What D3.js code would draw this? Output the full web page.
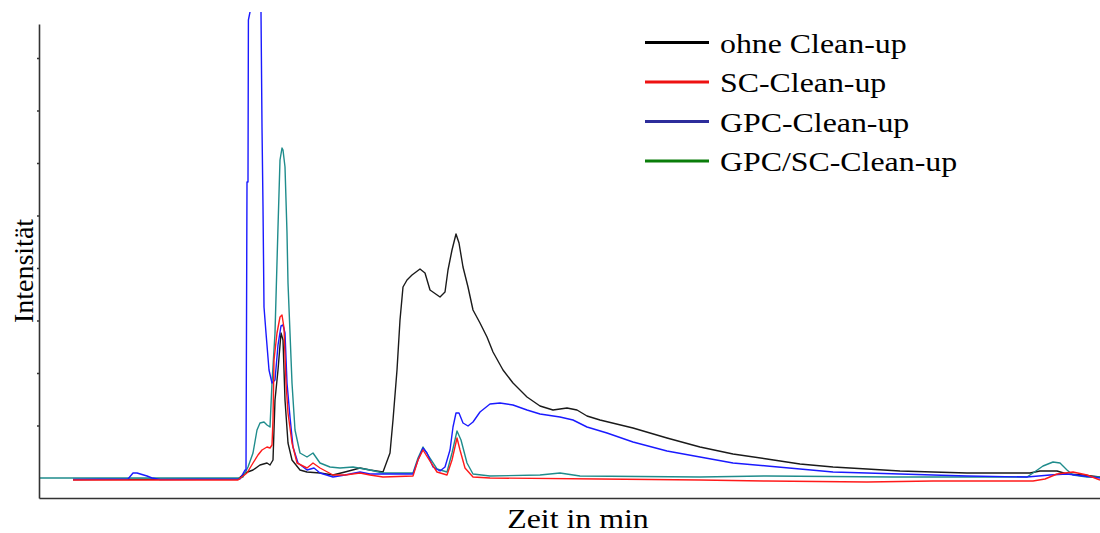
<!DOCTYPE html>
<html>
<head>
<meta charset="utf-8">
<script src="https://cdn.jsdelivr.net/npm/d3@7/dist/d3.min.js"></script>
<style>
  body { margin: 0; background: #fff; }
  svg { display: block; }
  .axis path, .axis line { stroke: #333; }
  text { font-family: "Liberation Serif", "Times New Roman", serif; fill: #000; }
</style>
</head>
<body>
<div id="chart"></div>
<script>
//////////////////////////////////////////////////////////////
///////////////////////// Data ///////////////////////////////
//////////////////////////////////////////////////////////////

// [time in min, intensity]
var ohneData = [
  [1.7,-0.3],[9.95,-0.2],[10.3,1.0],[10.7,1.6],[11.05,2.6],[11.4,3.0],[11.55,2.6],[11.7,3.6],
  [11.8,15.6],[11.95,21.6],[12.1,29],[12.2,27.6],[12.3,15.6],[12.45,7],[12.65,3.6],[13.05,1.6],
  [13.4,1.2],[14.05,1.0],[14.7,0.6],[15.3,1.2],[16.05,2.0],[16.55,1.6],[17.2,1.2],[17.55,5],
  [17.7,11.6],[17.9,21.6],[18.05,31.6],[18.2,38.2],[18.4,39.6],[18.65,40.6],[19.05,41.8],[19.3,41],
  [19.55,37.6],[20.05,36.2],[20.3,37.2],[20.45,41.6],[20.65,45.6],[20.85,48.8],[21.0,47],[21.2,42.2],
  [21.45,38.2],[21.7,33.6],[22.05,31],[22.4,28.2],[22.7,25.2],[23.2,21.6],[23.7,19],[24.4,16.2],
  [25.05,14.4],[25.7,13.6],[26.4,14],[26.9,13.6],[27.4,12.4],[28.05,11.6],[29.7,10],[31.4,8],
  [33.05,6.2],[34.7,4.8],[36.4,3.8],[38.05,2.8],[39.7,2.2],[41.4,1.8],[43.05,1.4],[44.7,1.2],
  [46.4,1.0],[48.05,1.0],[49.55,1.0],[50.05,1.4],[50.9,1.4],[51.4,0.8],[52.2,0.6],[53.05,0.2]
];

var scData = [
  [1.7,-0.4],[9.95,-0.4],[10.4,1.0],[10.7,3.0],[10.95,4.6],[11.15,5.6],[11.4,6.2],[11.55,6.0],
  [11.65,6.6],[11.7,11.6],[11.75,23.6],[11.9,29],[12.05,32.2],[12.15,32.6],[12.25,30],[12.35,19],
  [12.45,13],[12.65,7],[12.9,3],[13.4,2.0],[13.7,3.0],[14.05,2.0],[14.7,0.6],[15.3,0.6],
  [16.05,1.0],[16.55,0.6],[17.2,0.2],[18.7,0.4],[18.95,3.6],[19.2,5.6],[19.45,4],[19.9,1.2],
  [20.4,0.6],[20.65,3.6],[20.9,8],[21.05,5.6],[21.3,2],[21.7,0.2],[22.55,0],[28.05,-0.2],
  [33.05,-0.4],[36.4,-0.6],[41.4,-0.8],[44.7,-0.6],[49.7,-0.6],[50.3,-0.2],[50.9,0.8],[51.7,1.2],
  [52.4,0.6],[53.05,-0.4]
];

var gpcData = [
  [1.7,-0.3],[4.45,-0.2],[4.7,1.0],[4.9,1.0],[5.4,0.4],[5.65,0],[6.05,-0.3],[10.05,-0.2],
  [10.3,1.6],[10.35,1.6],[10.4,59.2],[10.45,59.2],[10.47,91.6],[10.55,93.2],[10.65,103.6],[10.95,103.6],
  [11.1,93.2],[11.15,70.2],[11.2,54.2],[11.25,34.2],[11.35,29],[11.5,21.6],[11.65,19],[11.8,19.6],
  [11.95,26.6],[12.1,30.4],[12.2,30.6],[12.3,29],[12.4,19],[12.55,12.2],[12.7,6.2],[12.95,3],
  [13.4,1.6],[13.75,2],[14.05,1.0],[14.7,0.2],[15.3,0.6],[16.05,1.2],[16.55,0.8],[17.2,0.8],
  [18.7,0.8],[18.95,3.6],[19.2,6],[19.4,5],[19.7,2.2],[20.05,1.4],[20.3,2.2],[20.55,5.6],
  [20.7,10.2],[20.85,13],[21.0,13],[21.2,11],[21.45,10.4],[21.7,11.2],[22.05,13.2],[22.55,14.8],
  [23.05,15],[23.7,14.6],[24.4,13.6],[25.05,12.8],[26.05,12.2],[26.7,11.6],[27.4,10.2],[28.4,9],
  [29.7,7.2],[31.4,5.4],[33.05,4.2],[34.7,3],[36.4,2.4],[38.05,1.8],[39.7,1.2],[41.4,1.0],
  [43.05,0.8],[44.7,0.6],[46.4,0.4],[49.4,0.2],[50.55,0.6],[51.4,0.8],[53.05,0]
];

var gpcScData = [
  [0.05,0],[10.05,0],[10.2,0.2],[10.45,2.2],[10.7,5],[10.9,9.6],[11.05,11],[11.25,11.2],
  [11.4,10.6],[11.55,10.2],[11.65,19],[11.8,29],[11.95,50.2],[12.05,63.6],[12.15,66],[12.2,65.6],
  [12.3,62.2],[12.4,49],[12.45,39],[12.55,29],[12.65,19],[12.8,9.6],[13.05,5],[13.4,4.2],
  [13.7,5],[14.05,3],[14.55,2.2],[15.05,2.0],[15.7,2.2],[16.55,1.6],[17.2,1.0],[18.7,1.0],
  [18.95,4],[19.2,6.2],[19.45,4.6],[19.9,1.8],[20.4,1.2],[20.65,5],[20.9,9.4],[21.1,7.6],
  [21.4,3],[21.7,0.8],[22.55,0.4],[25.05,0.6],[26.05,1.0],[27.05,0.4],[33.05,0.2],[36.4,0.4],
  [42.7,0.2],[49.4,0.2],[49.7,1.0],[50.2,2.4],[50.7,3.2],[51.05,3.0],[51.4,1.6],[51.7,0.6],
  [52.4,0.2],[53.05,0.2]
];

var seriesNames = ["ohne Clean-up", "SC-Clean-up", "GPC-Clean-up", "GPC/SC-Clean-up"];
var lineColors = ["#1a1a1a", "#ff1a1a", "#1a1aff", "#1f8c8c"];
var legendColors = ["#000000", "#ee1111", "#2d2d9b", "#0a7d0a"];
var yTicks = [10.5, 21, 31.5, 42, 52.5, 63, 73.5, 84];

//////////////////////////////////////////////////////////////
///////////////////// General settings ///////////////////////
//////////////////////////////////////////////////////////////

var width = 1100, height = 533;
var plot = {left: 39, right: 1100, top: 24, bottom: 498};
var textStretch = 1.18; // the original picture is a bit wider than tall

var svg = d3.select("#chart").append("svg")
    .attr("width", width)
    .attr("height", height);

var xScale = d3.scaleLinear().domain([0, 53.05]).range([plot.left, plot.right]);
var yScale = d3.scaleLinear().domain([-4, 90.8]).range([plot.bottom, plot.top]);

//clip so the tall GPC peak runs off the top
svg.append("defs").append("clipPath")
    .attr("id", "clip")
  .append("rect")
    .attr("x", plot.left)
    .attr("y", 12)
    .attr("width", plot.right - plot.left)
    .attr("height", plot.bottom - 12);

//////////////////////////////////////////////////////////////
//////////////////////// Lines ///////////////////////////////
//////////////////////////////////////////////////////////////

var line = d3.line()
    .x(function(d) { return xScale(d[0]); })
    .y(function(d) { return yScale(d[1]); });

var allSeries = [ohneData, scData, gpcData, gpcScData];
var drawOrder = [0, 3, 2, 1];

svg.append("g")
    .attr("clip-path", "url(#clip)")
  .selectAll(".chromLine")
  .data(drawOrder).enter()
  .append("path")
    .attr("class", "chromLine")
    .attr("d", function(i) { return line(allSeries[i]); })
    .attr("fill", "none")
    .attr("stroke", function(i) { return lineColors[i]; })
    .attr("stroke-width", 1.4)
    .attr("stroke-linejoin", "round");

//////////////////////////////////////////////////////////////
//////////////////////// Axes ////////////////////////////////
//////////////////////////////////////////////////////////////

var yAxis = d3.axisLeft(yScale).tickValues(yTicks).tickSize(2).tickSizeOuter(0).tickFormat("");
var xAxis = d3.axisBottom(xScale).tickValues([]).tickSizeOuter(0);

svg.append("g")
    .attr("class", "y axis")
    .attr("transform", "translate(" + plot.left + ",0)")
    .call(yAxis)
    .selectAll("path, line").attr("stroke-width", 1.6);

svg.append("g")
    .attr("class", "x axis")
    .attr("transform", "translate(0," + plot.bottom + ")")
    .call(xAxis)
    .selectAll("path").attr("stroke-width", 1.6);

svg.append("text")
    .attr("transform", "translate(578,528) scale(" + textStretch + ",1)")
    .attr("text-anchor", "middle")
    .style("font-size", "27px")
    .text("Zeit in min");

svg.append("text")
    .attr("transform", "translate(33,271) rotate(-90)")
    .attr("text-anchor", "middle")
    .style("font-size", "28px")
    .text("Intensität");

//////////////////////////////////////////////////////////////
/////////////////////// Legend ///////////////////////////////
//////////////////////////////////////////////////////////////

var legend = svg.append("g").attr("class", "legend");

var legendItem = legend.selectAll(".legendItem")
    .data(seriesNames).enter()
    .append("g")
    .attr("class", "legendItem")
    .attr("transform", function(d, i) { return "translate(0," + (42.5 + i * 39.5) + ")"; });

legendItem.append("line")
    .attr("x1", 645).attr("x2", 709)
    .attr("y1", 0).attr("y2", 0)
    .attr("stroke", function(d, i) { return legendColors[i]; })
    .attr("stroke-width", 3);

legendItem.append("text")
    .attr("transform", "translate(720,10) scale(" + textStretch + ",1)")
    .style("font-size", "27px")
    .text(function(d) { return d; });
</script>
</body>
</html>
